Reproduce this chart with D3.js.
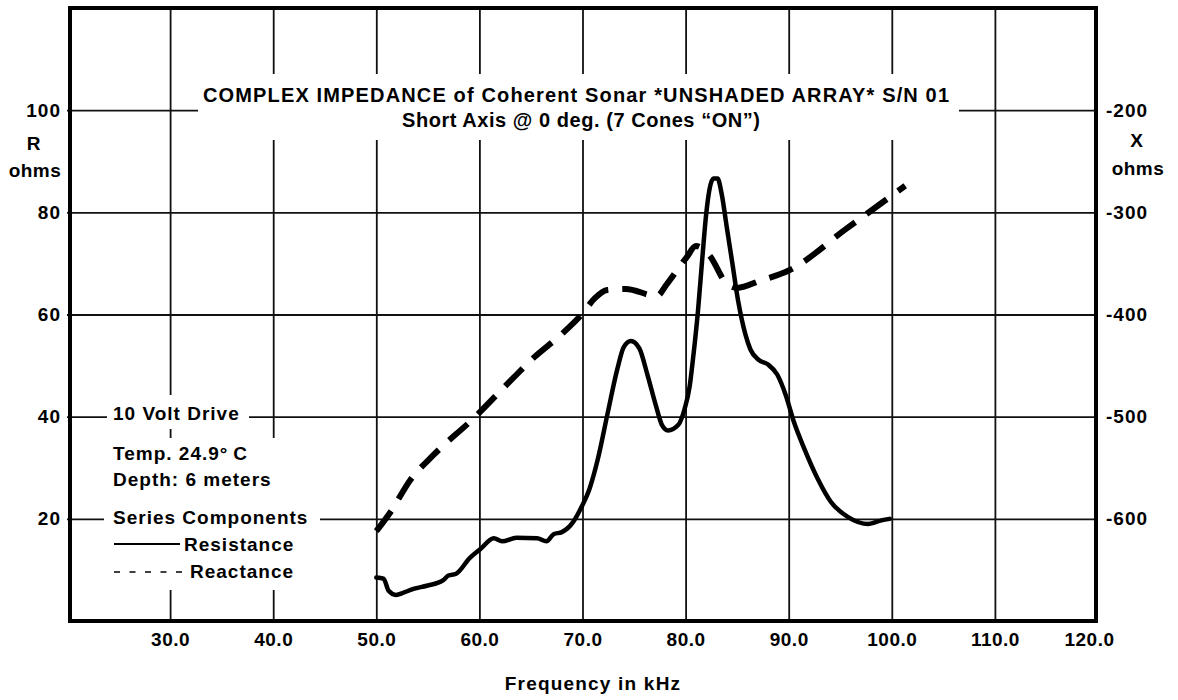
<!DOCTYPE html>
<html>
<head>
<meta charset="utf-8">
<script src="https://cdn.jsdelivr.net/npm/d3@7"></script>
<style>
  body { margin: 0; background: #fff; }
  svg { display: block; font-family: "Liberation Sans", Arial, sans-serif; font-weight: bold; }
</style>
</head>
<body>
<div id="chart"></div>
<script>
// values
const freqTicks = [30, 40, 50, 60, 70, 80, 90, 100, 110, 120];
const rTicks = [20, 40, 60, 80, 100];
const xTicks = [-600, -500, -400, -300, -200];

const freqR = [50.0, 50.7, 51.2, 51.9, 52.7, 53.6, 54.9, 56.5, 57.0, 57.7, 59.1, 60.1, 61.4, 62.2, 63.6,
  65.6, 66.5, 67.2, 68.0, 69.1, 69.9, 70.7, 71.5, 72.4, 73.4, 74.0, 74.7, 75.5, 76.3, 77.1, 77.7, 78.3,
  79.3, 79.9, 80.4, 80.7, 81.2, 81.6, 82.0, 82.3, 82.7, 83.1, 83.5, 84.0, 84.5, 85.1, 85.8, 86.3, 87.1,
  88.0, 88.9, 89.7, 90.5, 91.5, 92.8, 94.1, 95.8, 97.7, 99.0, 99.8];
const resistance = [8.5, 8.3, 5.9, 5.1, 5.6, 6.3, 6.9, 8.0, 8.9, 9.2, 12.4, 14.1, 16.2, 15.6, 16.3,
  16.2, 15.6, 17.0, 17.4, 19.4, 22.3, 26.0, 31.8, 40.3, 49.5, 53.6, 54.8, 53.4, 48.2, 42.3, 38.4, 37.3,
  38.4, 41.5, 46.0, 51.0, 60.7, 70.5, 79.7, 84.3, 86.6, 86.6, 83.6, 77.0, 70.5, 62.6, 56.1, 53.1, 51.1,
  50.2, 48.2, 44.3, 39.0, 33.8, 27.9, 23.3, 20.3, 19.0, 19.7, 20.0];

const freqX = [50.0, 51.4, 53.3, 55.6, 59.5, 63.0, 65.3, 68.0, 70.0, 71.2, 72.4, 74.2, 77.2, 78.2,
  80.1, 81.0, 82.3, 84.0, 85.0, 87.2, 90.0, 95.6, 101.3];
const reactance = [-612, -593, -562, -537, -501, -465, -442, -419, -399, -384, -376, -375, -382, -370,
  -344, -333, -342, -370, -374, -367, -357, -316, -274];

const titleLines = ['COMPLEX IMPEDANCE of Coherent Sonar *UNSHADED ARRAY* S/N 01',
  'Short Axis @ 0 deg. (7 Cones \u201cON\u201d)'];
const noteLines = ['10 Volt Drive', 'Temp. 24.9\u00b0\u2009C', 'Depth: 6 meters', 'Series Components'];
const legendNames = ['Resistance', 'Reactance'];

const width = 1178, height = 700;
const plot = { left: 67, right: 1098, top: 8, bottom: 621 };

const svg = d3.select('#chart')
  .append('svg')
  .attr('width', width)
  .attr('height', height);

const x = d3.scaleLinear().domain([20, 120]).range([plot.left, plot.right]);
const yR = d3.scaleLinear().domain([0, 120]).range([plot.bottom, plot.top]);
const yX = d3.scaleLinear().domain([-700, -100]).range([plot.bottom, plot.top]);

// grid
svg.append('g')
  .attr('transform', `translate(0,${plot.bottom})`)
  .call(d3.axisBottom(x).tickValues(freqTicks.filter(d => d < 120)).tickSize(-(plot.bottom - plot.top)).tickFormat(''))
  .call(g => g.select('.domain').remove())
  .selectAll('line').attr('stroke', '#111').attr('stroke-width', 1.8);

svg.append('g')
  .attr('transform', `translate(${plot.left},0)`)
  .call(d3.axisLeft(yR).tickValues(rTicks).tickSize(-(plot.right - plot.left)).tickFormat(''))
  .call(g => g.select('.domain').remove())
  .selectAll('line').attr('stroke', '#111').attr('stroke-width', 1.8);

// white areas behind the text blocks (grid is broken there)
const masks = [
  { x: 198, y: 74, w: 761, h: 66 },
  { x: 107, y: 395, w: 142, h: 34 },
  { x: 104, y: 438, w: 216, h: 152 }
];
svg.selectAll('rect.mask')
  .data(masks)
  .enter()
  .append('rect')
  .attr('class', 'mask')
  .attr('x', d => d.x).attr('y', d => d.y)
  .attr('width', d => d.w).attr('height', d => d.h)
  .attr('fill', '#fff');

// frame
svg.append('rect')
  .attr('x', 70).attr('y', plot.top)
  .attr('width', 1096 - 70).attr('height', plot.bottom - plot.top)
  .attr('fill', 'none')
  .attr('stroke', '#000')
  .attr('stroke-width', 4);

// curves
const lineR = d3.line()
  .x(d => x(d[0]))
  .y(d => yR(d[1]))
  .curve(d3.curveMonotoneX);
const lineX = d3.line()
  .x(d => x(d[0]))
  .y(d => yX(d[1]))
  .curve(d3.curveMonotoneX);

svg.append('path')
  .datum(d3.zip(freqR, resistance))
  .attr('d', lineR)
  .attr('fill', 'none')
  .attr('stroke', '#000')
  .attr('stroke-width', 4.5)
  .attr('stroke-linejoin', 'round')
  .attr('stroke-linecap', 'round');

svg.append('path')
  .datum(d3.zip(freqX, reactance))
  .attr('d', lineX)
  .attr('fill', 'none')
  .attr('stroke', '#000')
  .attr('stroke-width', 6)
  .attr('stroke-dasharray', '25,14');

// tick labels
function styleTicks(spacing) {
  return g => {
    g.select('.domain').remove();
    g.selectAll('text')
      .attr('font-family', '"Liberation Sans", Arial, sans-serif')
      .attr('font-weight', 'bold')
      .attr('font-size', 19)
      .attr('letter-spacing', spacing)
      .attr('fill', '#000');
  };
}

svg.append('g')
  .attr('transform', `translate(0,${plot.bottom})`)
  .call(d3.axisBottom(x).tickValues(freqTicks).tickFormat(d3.format('.1f')).tickSize(0).tickPadding(12))
  .call(styleTicks(0.5))
  // the last label sits a bit inside the frame on the original
  .selectAll('.tick text').filter(d => d === 120).attr('dx', -9);

svg.append('g')
  .attr('transform', `translate(${plot.left},0)`)
  .call(d3.axisLeft(yR).tickValues(rTicks).tickSize(0).tickPadding(6))
  .call(styleTicks(1));

svg.append('g')
  .attr('transform', `translate(${plot.right},0)`)
  .call(d3.axisRight(yX).tickValues(xTicks).tickFormat(d => '-' + Math.abs(d)).tickSize(0).tickPadding(8))
  .call(styleTicks(1));

// text helper
function label(txt, px, py, anchor = 'start', spacing = 1, size = 19) {
  return svg.append('text')
    .attr('x', px).attr('y', py)
    .attr('text-anchor', anchor)
    .attr('font-size', size)
    .attr('letter-spacing', spacing)
    .text(txt);
}

// axis names
label('R', 34, 150, 'middle');
label('ohms', 35, 177, 'middle', 0.5);
label('X', 1137, 147, 'middle');
label('ohms', 1138, 175, 'middle', 0.5);
label('Frequency in kHz', 593, 690, 'middle', 1.2);

// title
label(titleLines[0], 576, 102, 'middle', 0, 20).attr('textLength', 746).attr('lengthAdjust', 'spacing');
label(titleLines[1], 581, 127, 'middle', 0, 20).attr('textLength', 358).attr('lengthAdjust', 'spacing');

// notes + legend
const noteY = [420, 460, 486, 524];
noteLines.forEach((t, i) => label(t, 113, noteY[i]));

svg.append('line')
  .attr('x1', 114).attr('x2', 180)
  .attr('y1', 544).attr('y2', 544)
  .attr('stroke', '#000').attr('stroke-width', 2);
svg.append('line')
  .attr('x1', 114).attr('x2', 182)
  .attr('y1', 572).attr('y2', 572)
  .attr('stroke', '#000').attr('stroke-width', 1.5)
  .attr('stroke-dasharray', '6,9.5');
label(legendNames[0], 184, 551);
label(legendNames[1], 190, 578);
</script>
</body>
</html>
